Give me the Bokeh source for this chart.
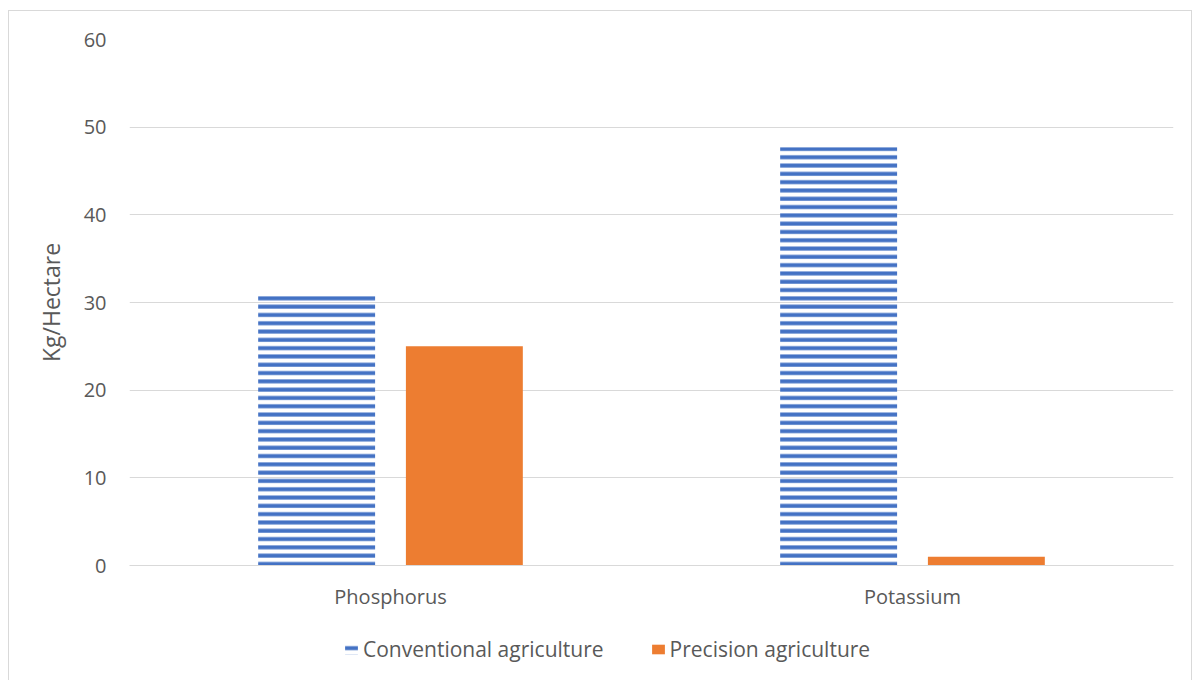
from bokeh.plotting import figure
from bokeh.layouts import column
from bokeh.models import ColumnDataSource, FactorRange, Legend, LegendItem
from bokeh.transform import dodge
from bokeh.embed import file_html
from bokeh.resources import INLINE

nutrients = ["Phosphorus", "Potassium"]
conventional = [30.8, 47.7]
precision = [25.0, 1.0]
y_ticks = [0, 10, 20, 30, 40, 50, 60]

FONT = "Open Sans"
TEXT = "#595959"
GRID = "#d9d9d9"
BLUE = "#4472c4"
ORANGE = "#ed7d31"
FS = "20px"
W = 1182
BW = 0.224
OFF = 0.1415

conv_style = dict(fill_color=None, line_color=None, hatch_pattern="horizontal_line",
                  hatch_color=BLUE, hatch_scale=8.3, hatch_weight=4)
prec_style = dict(fill_color=ORANGE, line_color=None)

src = ColumnDataSource(dict(nutrient=nutrients, conv=conventional, prec=precision))
xr = FactorRange(*nutrients, range_padding=0)

# main bar chart
p = figure(
    x_range=xr, y_range=(0, 60),
    width=W, height=610,
    output_backend="svg", toolbar_location=None,
    min_border_left=120, min_border_right=18,
    min_border_top=28, min_border_bottom=56,
)
p.outline_line_color = None

p.vbar(x=dodge("nutrient", -OFF, range=xr), top="conv", width=BW, source=src, **conv_style)
p.vbar(x=dodge("nutrient", OFF, range=xr), top="prec", width=BW, source=src, **prec_style)

p.xgrid.grid_line_color = None
p.ygrid.grid_line_color = GRID
p.ygrid.grid_line_width = 1

p.yaxis.ticker = y_ticks
p.yaxis.axis_line_color = None
p.yaxis.major_tick_line_color = None
p.yaxis.minor_tick_line_color = None
p.yaxis.major_label_text_font = FONT
p.yaxis.major_label_text_font_size = FS
p.yaxis.major_label_text_color = TEXT
p.yaxis.major_label_standoff = 17
p.yaxis.axis_label = "Kg/Hectare"
p.yaxis.axis_label_text_font = FONT
p.yaxis.axis_label_text_font_size = "23px"
p.yaxis.axis_label_text_font_style = "normal"
p.yaxis.axis_label_text_color = TEXT
p.yaxis.axis_label_standoff = 14

p.xaxis.axis_line_color = GRID
p.xaxis.major_tick_line_color = None
p.xaxis.minor_tick_line_color = None
p.xaxis.major_label_text_font = FONT
p.xaxis.major_label_text_font_size = FS
p.xaxis.major_label_text_color = TEXT
p.xaxis.major_label_standoff = 11

# legend strip under the chart; its bars share the data but sit outside the visible y span
lg = figure(width=W, height=70, output_backend="svg", toolbar_location=None,
            x_axis_location=None, y_axis_location=None,
            min_border=0, x_range=xr, y_range=(1000, 1001))
lg.grid.visible = False
lg.outline_line_color = None
k1 = lg.vbar(x=dodge("nutrient", -OFF, range=xr), top="conv", width=BW, source=src, **conv_style)
k2 = lg.vbar(x=dodge("nutrient", OFF, range=xr), top="prec", width=BW, source=src, **prec_style)
legend = Legend(
    items=[LegendItem(label="Conventional agriculture", renderers=[k1]),
           LegendItem(label="Precision agriculture", renderers=[k2])],
    orientation="horizontal", location=(214, 28),
    label_text_font=FONT, label_text_font_size="21px", label_text_color=TEXT,
    glyph_width=16, glyph_height=12, spacing=46, label_standoff=4,
    border_line_color=None, background_fill_alpha=0, margin=0, padding=0,
)
lg.add_layout(legend, "center")

page = column(p, lg, spacing=0)
page.margin = (10, 0, 0, 8)
page.styles = {"border": "1px solid #d9d9d9", "background-color": "white"}

open("out.html", "w").write(file_html(page, INLINE))
